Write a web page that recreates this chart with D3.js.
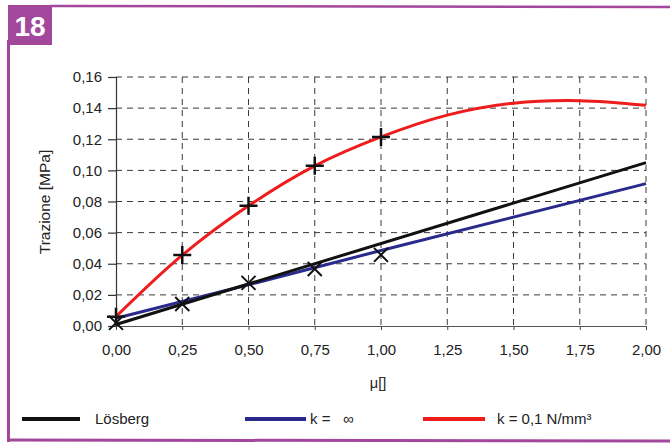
<!DOCTYPE html>
<html><head><meta charset="utf-8">
<script src="https://cdn.jsdelivr.net/npm/d3@7"></script>
<style>body{margin:0;background:#fff}svg{display:block}text{font-family:"Liberation Sans",Arial,sans-serif}</style>
</head><body><svg id="c" width="670" height="445"></svg>
<script>
const xTicks = [0, 0.25, 0.5, 0.75, 1.0, 1.25, 1.5, 1.75, 2.0];
const yTicks = [0, 0.02, 0.04, 0.06, 0.08, 0.10, 0.12, 0.14, 0.16];
const muLosberg = [0, 2.0];
const valLosberg = [0.001, 0.105];
const muKinf = [0, 0.5, 1.0, 2.0];
const valKinf = [0.005, 0.0265, 0.0485, 0.0915];
const muK01 = [0, 0.25, 0.5, 0.75, 1.0, 1.25, 1.5, 1.75, 2.0];
const valK01 = [0.006, 0.0455, 0.0772, 0.1029, 0.1215, 0.1355, 0.1432, 0.1448, 0.1418];
const crossMu = [0, 0.25, 0.5, 0.75, 1.0];
const crossVal = [0.002, 0.0141, 0.0277, 0.0366, 0.0457];
const plusMu = [0, 0.25, 0.5, 0.75, 1.0];
const plusVal = [0.006, 0.0457, 0.0772, 0.1029, 0.1215];
const legendLabels = ["Lösberg", "k =   ∞", "k = 0,1 N/mm³"];
const colors = ["#111111", "#2a2a8c", "#ee1c1c"];

const svg = d3.select("#c");
const purple = "#a2479c";
// frame
svg.append("rect").attr("x",8).attr("y",5).attr("width",44).attr("height",40).attr("fill",purple);
svg.append("text").attr("x",30).attr("y",36).attr("text-anchor","middle").attr("fill","#fff")
  .attr("font-size",28).attr("font-weight","bold").text("18");
svg.append("line").attr("x1",50).attr("x2",670).attr("y1",6).attr("y2",7).attr("stroke",purple).attr("stroke-width",2.5);
svg.append("line").attr("x1",8.5).attr("x2",8.5).attr("y1",40).attr("y2",442).attr("stroke",purple).attr("stroke-width",3);
svg.append("line").attr("x1",7).attr("x2",670).attr("y1",440).attr("y2",441).attr("stroke",purple).attr("stroke-width",3);

const x = d3.scaleLinear().domain([0,2]).range([116,646]);
const y = d3.scaleLinear().domain([0,0.16]).range([326,77]);
const fmt = v => d3.format(".2f")(v).replace(".", ",");

// grid
const g = svg.append("g");
g.selectAll(".vg").data(xTicks.slice(1)).join("line")
  .attr("x1",d=>x(d)).attr("x2",d=>x(d)).attr("y1",y(0.16)).attr("y2",y(0))
  .attr("stroke","#3a3a3a").attr("stroke-width",1).attr("stroke-dasharray","6,5");
g.selectAll(".hg").data(yTicks.slice(1)).join("line")
  .attr("x1",x(0)).attr("x2",x(2)).attr("y1",d=>y(d)).attr("y2",d=>y(d))
  .attr("stroke","#3a3a3a").attr("stroke-width",1).attr("stroke-dasharray","6,5");

// axes
const yAxis = d3.axisLeft(y).tickValues(yTicks).tickFormat(fmt).tickSize(8).tickPadding(6);
const ya = svg.append("g").attr("transform",`translate(${x(0)},0)`).call(yAxis);
ya.select(".domain").attr("stroke","#333").attr("stroke-width",1.2);
ya.selectAll(".tick line").attr("stroke","#333").attr("stroke-width",1.2);
ya.selectAll("text").attr("font-size",15).attr("fill","#222").attr("font-family","Liberation Sans, Arial, sans-serif");
const xAxis = d3.axisBottom(x).tickValues(xTicks).tickFormat(fmt).tickSize(4).tickPadding(14);
const xa = svg.append("g").attr("transform",`translate(0,${y(0)})`).call(xAxis);
xa.select(".domain").attr("stroke","#555").attr("stroke-width",1);
xa.selectAll(".tick line").attr("stroke","#444");
xa.selectAll("text").attr("font-size",15).attr("fill","#222").attr("font-family","Liberation Sans, Arial, sans-serif");

svg.append("text").attr("transform","translate(50,202) rotate(-90)").attr("text-anchor","middle")
  .attr("font-size",15.5).attr("fill","#222").text("Trazione [MPa]");
svg.append("text").attr("x",378).attr("y",388).attr("text-anchor","middle")
  .attr("font-size",14.5).attr("fill","#222").text("μ[]");

// lines
const line = d3.line().x(d=>x(d[0])).y(d=>y(d[1]));
const series = [
  [muLosberg, valLosberg, d3.curveLinear],
  [muKinf, valKinf, d3.curveLinear],
  [muK01, valK01, d3.curveCatmullRom]
];
[1,0,2].forEach(i=>{
  const [mu, val, curve] = series[i];
  svg.append("path").datum(mu.map((m,j)=>[m,val[j]]))
    .attr("d", line.curve(curve)).attr("fill","none").attr("stroke",colors[i]).attr("stroke-width",3);
});

// markers
crossMu.forEach((m,i)=>{
  const cx=x(m), cy=y(crossVal[i]), s=7;
  svg.append("path").attr("d",`M${cx-s},${cy-s}L${cx+s},${cy+s}M${cx-s},${cy+s}L${cx+s},${cy-s}`)
    .attr("stroke","#111").attr("stroke-width",2);
});
plusMu.forEach((m,i)=>{
  const cx=x(m), cy=y(plusVal[i]), s=9;
  svg.append("path").attr("d",`M${cx-s},${cy}L${cx+s},${cy}M${cx},${cy-s}L${cx},${cy+s}`)
    .attr("stroke","#111").attr("stroke-width",2.5);
});

// legend
const legX = [[22,80,95],[245,306,310],[423,485,497]];
legendLabels.forEach((t,i)=>{
  svg.append("line").attr("x1",legX[i][0]).attr("x2",legX[i][1]).attr("y1",419).attr("y2",419)
    .attr("stroke",colors[i]).attr("stroke-width",4);
  svg.append("text").attr("x",legX[i][2]).attr("y",424).attr("font-size",15).attr("fill","#222")
    .style("white-space","pre").text(t);
});
</script></body></html>
